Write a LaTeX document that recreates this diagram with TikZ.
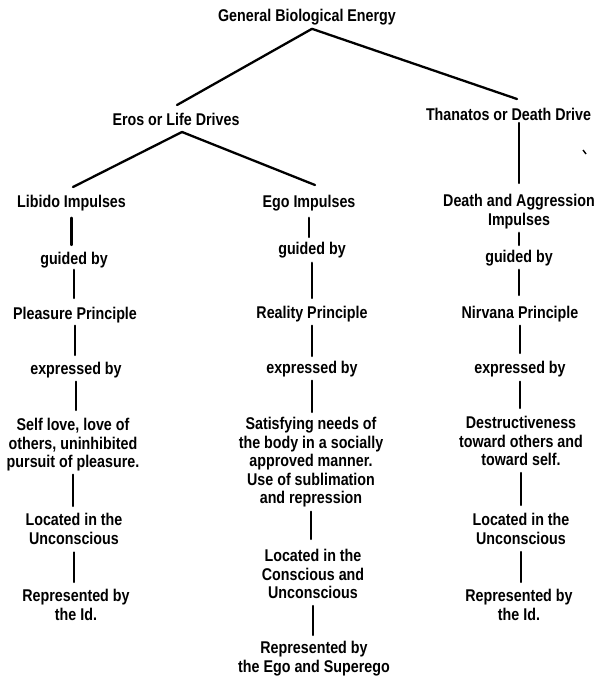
\documentclass[tikz,border=0pt]{standalone}
\usepackage{fontspec}
\setmainfont{Liberation Sans}[FakeStretch=0.84]
\newcommand{\conn}[4]{\draw[conn] ([yshift=-#3pt]#1.south) -- ([yshift=#4pt]#1.south |- #2.north);}
\begin{document}
\begin{tikzpicture}[x=1pt,y=-1pt,
  lbl/.style={anchor=north,inner sep=0pt,outer sep=0pt,align=center,font={\fontsize{17}{18.5}\selectfont\bfseries}},
  conn/.style={line width=2.3pt,line cap=round}]
\useasboundingbox (0,0) rectangle (598,678);
% top levels
\node[lbl] (gen) at (307,9.2) {General Biological Energy};
\node[lbl] (eros) at (176,113.5) {Eros or Life Drives};
\node[lbl,anchor=north west] (than) at (426,108.5) {Thanatos or Death Drive};
\node[lbl] (lib) at (71.5,195.5) {Libido Impulses};
\node[lbl] (ego) at (309,195.5) {Ego Impulses};
\node[lbl] (death) at (519,194.5) {Death and Aggression\\Impulses};
% libido column
\node[lbl] (g1) at (74,252.5) {guided by};
\node[lbl] (p1) at (75,307.5) {Pleasure Principle};
\node[lbl] (e1) at (76,362.5) {expressed by};
\node[lbl] (s1) at (73,418.5) {Self love, love of\\others, uninhibited\\pursuit of pleasure.};
\node[lbl] (l1) at (74,513.5) {Located in the\\Unconscious};
\node[lbl] (r1) at (76,589.5) {Represented by\\the Id.};
% ego column
\node[lbl] (g2) at (312,242.5) {guided by};
\node[lbl] (p2) at (312,306.5) {Reality Principle};
\node[lbl] (e2) at (312,361.5) {expressed by};
\node[lbl] (s2) at (311,417.5) {Satisfying needs of\\the body in a socially\\approved manner.\\Use of sublimation\\and repression};
\node[lbl] (l2) at (313,549.5) {Located in the\\Conscious and\\Unconscious};
\node[lbl] (r2) at (314,641.5) {Represented by\\the Ego and Superego};
% death column
\node[lbl] (g3) at (519,250.5) {guided by};
\node[lbl] (p3) at (520,306.5) {Nirvana Principle};
\node[lbl] (e3) at (520,361.5) {expressed by};
\node[lbl] (s3) at (521,416.5) {Destructiveness\\toward others and\\toward self.};
\node[lbl] (l3) at (521,513.5) {Located in the\\Unconscious};
\node[lbl] (r3) at (519,589.5) {Represented by\\the Id.};
% branching connectors
\draw[conn] ([xshift=5pt,yshift=-3.7pt]gen.south) -- ([xshift=1pt,yshift=8.5pt]eros.north);
\draw[conn] ([xshift=5pt,yshift=-3.7pt]gen.south) -- ([xshift=8.5pt,yshift=9.5pt]than.north);
\draw[conn] ([xshift=6pt,yshift=-6pt]eros.south) -- ([xshift=1.5pt,yshift=8.5pt]lib.north);
\draw[conn] ([xshift=6pt,yshift=-6pt]eros.south) -- ([xshift=6pt,yshift=10.5pt]ego.north);
\draw[conn] ([yshift=-2pt]than.south -| death.north) -- ([yshift=11.5pt]death.north);
% vertical chains
\conn{lib}{g1}{6.4}{7.5}
\conn{g1}{p1}{1.4}{9.5}
\conn{p1}{e1}{2.4}{7.5}
\conn{e1}{s1}{3.4}{8.5}
\conn{s1}{l1}{3.4}{7.5}
\conn{l1}{r1}{8}{7.5}
\conn{ego}{g2}{6.4}{5.5}
\conn{g2}{p2}{4.4}{8.5}
\conn{p2}{e2}{3.4}{5.5}
\conn{e2}{s2}{3.4}{5.5}
\conn{s2}{l2}{4.4}{10.5}
\conn{l2}{r2}{7}{6.5}
\conn{death}{g3}{4}{5.5}
\conn{g3}{p3}{3.4}{11.5}
\conn{p3}{e3}{3.4}{8.5}
\conn{e3}{s3}{4.4}{8.5}
\conn{s3}{l3}{7}{8.5}
\conn{l3}{r3}{7.5}{7.5}
% speck
\coordinate (sp1) at (583,150);
\coordinate (sp2) at (586,154);
\draw[line width=1.4pt] (sp1) -- (sp2);
\end{tikzpicture}
\end{document}
